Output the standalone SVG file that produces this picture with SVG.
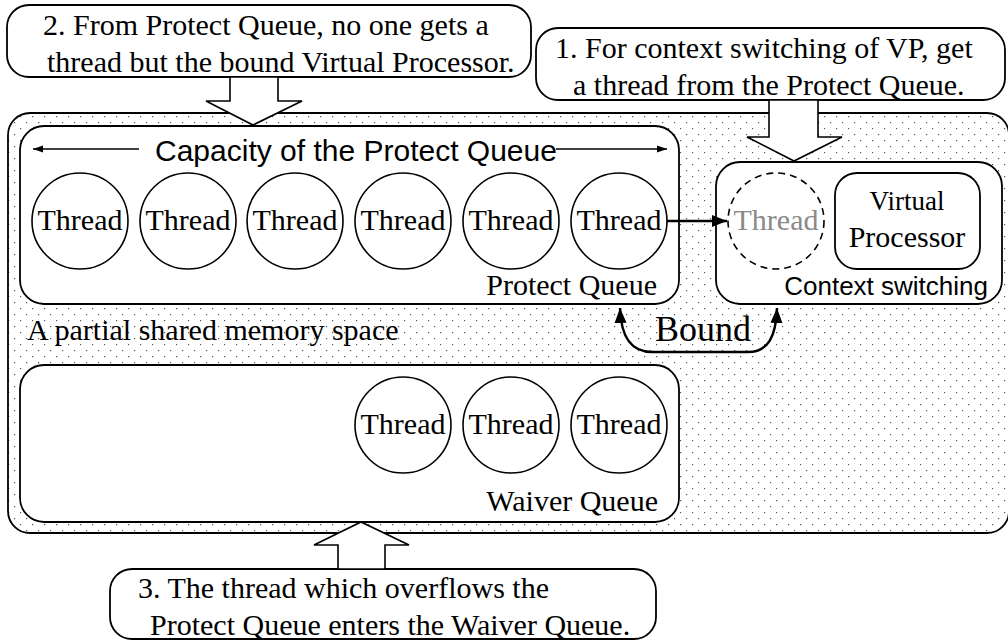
<svg xmlns="http://www.w3.org/2000/svg" width="1008" height="641" viewBox="0 0 1008 641">
<style>
.box{fill:#fff;stroke:#000;stroke-width:1.8}
.th{fill:#fff;stroke:#000;stroke-width:1.6}
.tt{font-family:"Liberation Serif","Times New Roman",serif;font-size:30px;fill:#000}
.ss{font-family:"Liberation Sans",Arial,sans-serif;fill:#000}
.blk{fill:#fff;stroke:#000;stroke-width:1.6;stroke-linejoin:miter}
.con{fill:none;stroke:#000;stroke-width:2.5}
.thin{fill:none;stroke:#000;stroke-width:1.5}
</style>
<defs>
<pattern id="dots" x="0" y="0" width="12" height="12" patternUnits="userSpaceOnUse">
<rect x="2" y="2" width="1.2" height="1.2" fill="#555"/>
<rect x="8" y="8" width="1.2" height="1.2" fill="#555"/>
</pattern>
<marker id="ah" viewBox="0 0 10 10" refX="10" refY="5" markerWidth="6" markerHeight="6" orient="auto-start-reverse" markerUnits="strokeWidth">
<path d="M0,1 L10,5 L0,9 Z" fill="#000"/>
</marker>
<marker id="ahs" viewBox="0 0 10 10" refX="10" refY="5" markerWidth="14" markerHeight="10" orient="auto-start-reverse" markerUnits="userSpaceOnUse">
<path d="M0,1.5 L10,5 L0,8.5 Z" fill="#000"/>
</marker>
</defs>

<g id="memory-space">
<rect x="8" y="113" width="1001" height="420" rx="22" fill="url(#dots)" stroke="#000" stroke-width="1.8"/>
<text class="tt" x="27" y="340">A partial shared memory space</text>
</g>

<g id="protect-queue">
<rect class="box" x="20" y="126" width="659" height="178" rx="24"/>
<text class="tt" x="657" y="295" text-anchor="end">Protect Queue</text>
<text class="ss" x="155" y="161" style="font-size:30px">Capacity of the Protect Queue</text>
<line class="thin" x1="139" y1="149" x2="33" y2="149" marker-end="url(#ahs)"/>
<line class="thin" x1="556" y1="149" x2="667" y2="149" marker-end="url(#ahs)"/>
<g id="pq-thread-1"><circle class="th" cx="80" cy="221" r="48"/><text class="tt" x="80" y="230" text-anchor="middle">Thread</text></g>
<g id="pq-thread-2"><circle class="th" cx="188" cy="221" r="48"/><text class="tt" x="188" y="230" text-anchor="middle">Thread</text></g>
<g id="pq-thread-3"><circle class="th" cx="295" cy="221" r="48"/><text class="tt" x="295" y="230" text-anchor="middle">Thread</text></g>
<g id="pq-thread-4"><circle class="th" cx="403" cy="221" r="48"/><text class="tt" x="403" y="230" text-anchor="middle">Thread</text></g>
<g id="pq-thread-5"><circle class="th" cx="511" cy="221" r="48"/><text class="tt" x="511" y="230" text-anchor="middle">Thread</text></g>
<g id="pq-thread-6"><circle class="th" cx="619" cy="221" r="48"/><text class="tt" x="619" y="230" text-anchor="middle">Thread</text></g>
</g>

<g id="context-switching">
<rect class="box" x="716" y="162" width="286" height="142" rx="24"/>
<text class="ss" x="988" y="295" text-anchor="end" style="font-size:26px">Context switching</text>
<g id="cs-thread"><circle cx="776" cy="221" r="48" fill="#fff" stroke="#000" stroke-width="1.6" stroke-dasharray="7,5"/><text class="tt" x="776" y="230" text-anchor="middle" style="fill:#8a8a8a">Thread</text></g>
<g id="virtual-processor"><rect class="box" x="835" y="173" width="145" height="96" rx="22"/>
<text class="tt" x="907" y="210" text-anchor="middle" style="font-size:27px">Virtual</text>
<text class="tt" x="907" y="247" text-anchor="middle">Processor</text></g>
</g>

<g id="waiver-queue">
<rect class="box" x="20" y="365" width="659" height="157" rx="24"/>
<text class="tt" x="658" y="511" text-anchor="end">Waiver Queue</text>
<g id="wq-thread-1"><circle class="th" cx="403" cy="425" r="48"/><text class="tt" x="403" y="434" text-anchor="middle">Thread</text></g>
<g id="wq-thread-2"><circle class="th" cx="511" cy="425" r="48"/><text class="tt" x="511" y="434" text-anchor="middle">Thread</text></g>
<g id="wq-thread-3"><circle class="th" cx="619" cy="425" r="48"/><text class="tt" x="619" y="434" text-anchor="middle">Thread</text></g>
</g>

<g id="callout-2">
<rect class="box" x="7" y="5" width="524" height="72" rx="22"/>
<text class="tt" x="43" y="35">2. From Protect Queue, no one gets a</text>
<text class="tt" x="47" y="72">thread but the bound Virtual Processor.</text>
</g>

<g id="callout-1">
<rect class="box" x="536" y="28" width="469" height="72" rx="22"/>
<text class="tt" x="555" y="58">1. For context switching of VP, get</text>
<text class="tt" x="573" y="95">a thread from the Protect Queue.</text>
</g>

<g id="callout-3">
<rect class="box" x="110" y="569" width="546" height="70" rx="22"/>
<text class="tt" x="138" y="598">3. The thread which overflows the</text>
<text class="tt" x="150" y="635">Protect Queue enters the Waiver Queue.</text>
</g>

<g id="connectors">
<polygon class="blk" points="230,77 278,77 278,101 302,101 253,125 206,101 230,101"/>
<polygon class="blk" points="769,100 818,100 818,137 842,137 794,161 747,137 769,137"/>
<polygon class="blk" points="338,569 385,569 385,545 409,545 361,522 314,545 338,545"/>
<line class="con" x1="667" y1="221" x2="727" y2="221" marker-end="url(#ah)"/>
<path class="con" d="M620,308 C621,336 630,352 652,352 L748,352 C768,352 776,337 777,308" marker-start="url(#ah)" marker-end="url(#ah)"/>
<text class="tt" x="703" y="341" text-anchor="middle" style="font-size:36px">Bound</text>
</g>
</svg>
